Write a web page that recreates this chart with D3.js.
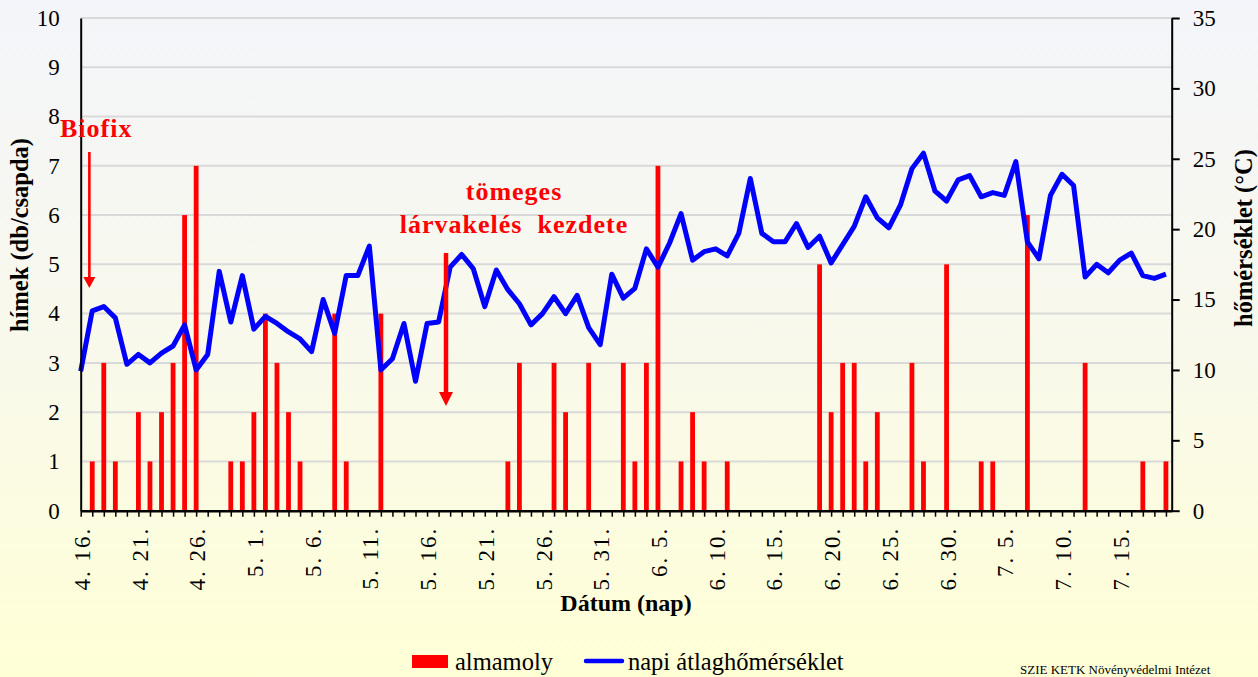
<!DOCTYPE html>
<html>
<head>
<meta charset="utf-8">
<script src="https://cdn.jsdelivr.net/npm/d3@7"></script>
<style>
  html, body { margin: 0; padding: 0; }
  body { width: 1258px; height: 677px; overflow: hidden; }
  text { font-family: "Liberation Serif", "DejaVu Serif", "Times New Roman", serif; }
</style>
</head>
<body>
<svg class="chart"></svg>
<script>
let width = 1258,
  height = 677;

// daily catches of male codling moth (almamoly), 4.16 -> 7.19
let catches = [0, 1, 3, 1, 0, 2, 1, 2, 3, 6, 7, 0, 0, 1, 1, 2, 4, 3, 2, 1,
  0, 0, 4, 1, 0, 0, 4, 0, 0, 0, 0, 0, 0, 0, 0, 0, 0, 1, 3, 0,
  0, 3, 2, 0, 3, 0, 0, 3, 1, 3, 7, 0, 1, 2, 1, 0, 1, 0, 0, 0,
  0, 0, 0, 0, 5, 2, 3, 3, 1, 2, 0, 0, 3, 1, 0, 5, 0, 0, 1, 1,
  0, 0, 6, 0, 0, 0, 0, 3, 0, 0, 0, 0, 1, 0, 1];

// daily mean temperature (°C)
let temps = [9.9, 14.2, 14.5, 13.7, 10.4, 11.1, 10.5, 11.2, 11.7, 13.2,
  10.0, 11.1, 17.0, 13.4, 16.7, 12.9, 13.8, 13.3, 12.7, 12.2,
  11.3, 15.0, 12.6, 16.7, 16.7, 18.8, 10.0, 10.8, 13.3, 9.2,
  13.3, 13.4, 17.3, 18.2, 17.2, 14.5, 17.1, 15.7, 14.7, 13.2,
  14.0, 15.2, 14.0, 15.3, 13.0, 11.8, 16.8, 15.1, 15.8, 18.6,
  17.3, 19.0, 21.1, 17.8, 18.4, 18.6, 18.1, 19.7, 23.6, 19.7,
  19.1, 19.1, 20.4, 18.7, 19.5, 17.6, 18.9, 20.2, 22.3, 20.8,
  20.1, 21.7, 24.3, 25.4, 22.7, 22.0, 23.5, 23.8, 22.3, 22.6,
  22.4, 24.8, 19.1, 17.9, 22.4, 23.9, 23.1, 16.6, 17.5, 16.9,
  17.8, 18.3, 16.7, 16.5, 16.8];

// every 5th day gets a label
let dateLabels = ["4. 16.", "4. 21.", "4. 26.", "5. 1.", "5. 6.", "5. 11.", "5. 16.",
  "5. 21.", "5. 26.", "5. 31.", "6. 5.", "6. 10.", "6. 15.", "6. 20.", "6. 25.",
  "6. 30.", "7. 5.", "7. 10.", "7. 15."];

let leftTicks = [0, 1, 2, 3, 4, 5, 6, 7, 8, 9, 10];
let rightTicks = [0, 5, 10, 15, 20, 25, 30, 35];

let plotLeft = 80.7, plotRight = 1171.7, plotTop = 18, plotBottom = 510.7;

let x = d3.scaleLinear().domain([0, 94.5]).range([plotLeft, plotRight]);
let yL = d3.scaleLinear().domain([0, 10]).range([plotBottom, plotTop]);
let yR = d3.scaleLinear().domain([0, 35]).range([plotBottom, plotTop]);

let svg = d3.select(".chart").attr("width", width).attr("height", height);

// background
let grad = svg.append("defs").append("linearGradient")
  .attr("id", "bg").attr("x1", 0).attr("y1", 0).attr("x2", 0).attr("y2", 1);
grad.append("stop").attr("offset", "0%").attr("stop-color", "#f3f5fa");
grad.append("stop").attr("offset", "55%").attr("stop-color", "#f9f9ea");
grad.append("stop").attr("offset", "100%").attr("stop-color", "#ffffd6");
svg.append("rect").attr("width", width).attr("height", height).attr("fill", "url(#bg)");

// gridlines
svg.append("g")
  .selectAll("line")
  .data(leftTicks.filter(d => d > 0))
  .enter()
  .append("line")
  .attr("x1", plotLeft).attr("x2", plotRight)
  .attr("y1", d => yL(d)).attr("y2", d => yL(d))
  .attr("stroke", "#d9d9d9").attr("stroke-width", 2);

// bars
svg.append("g")
  .selectAll("rect")
  .data(catches)
  .enter()
  .append("rect")
  .attr("x", (d, i) => x(i) - 2.4)
  .attr("width", 4.8)
  .attr("y", d => yL(d))
  .attr("height", d => plotBottom - yL(d))
  .attr("fill", "#ff0000");

// temperature line
svg.append("path")
  .datum(temps)
  .attr("fill", "none")
  .attr("stroke", "#0000ff")
  .attr("stroke-width", 5)
  .attr("stroke-linejoin", "round")
  .attr("d", d3.line().x((d, i) => x(i)).y(d => yR(d)));

// left axis
let gl = svg.append("g").attr("transform", `translate(${plotLeft},0)`)
  .call(d3.axisLeft(yL).tickValues(leftTicks).tickSize(0).tickPadding(21));
gl.select(".domain").attr("stroke", "#000").attr("stroke-width", 2);
gl.selectAll("text").attr("font-size", 23).attr("fill", "#000")
  .style("font-family", "Liberation Serif");

// right axis
let gr = svg.append("g").attr("transform", `translate(${plotRight},0)`)
  .call(d3.axisRight(yR).tickValues(rightTicks).tickSizeInner(8).tickSizeOuter(0).tickPadding(13));
gr.select(".domain").attr("stroke", "#000").attr("stroke-width", 2);
gr.selectAll(".tick line").attr("stroke", "#000").attr("stroke-width", 2);
gr.selectAll("text").attr("font-size", 23).attr("fill", "#000")
  .style("font-family", "Liberation Serif");

// bottom axis, one tick per day
let gb = svg.append("g").attr("transform", `translate(0,${plotBottom})`)
  .call(d3.axisBottom(x).tickValues(d3.range(0, 95)).tickSizeInner(6).tickSizeOuter(0)
    .tickFormat(d => (d % 5 === 0 ? dateLabels[d / 5] : "")));
gb.select(".domain").attr("stroke", "#000").attr("stroke-width", 2.5);
gb.selectAll(".tick line").attr("stroke", "#000").attr("stroke-width", 1.5);
gb.selectAll("text")
  .attr("font-size", 23)
  .attr("fill", "#000")
  .style("font-family", "Liberation Serif")
  .style("letter-spacing", "2px")
  .attr("text-anchor", "end")
  .attr("dy", "0.33em")
  .attr("transform", "translate(1,16) rotate(-90)")
  .attr("x", 0).attr("y", 0);

// axis titles
svg.append("text")
  .attr("transform", "translate(28,235) rotate(-90)")
  .attr("text-anchor", "middle")
  .attr("font-size", 24.5).attr("font-weight", "bold")
  .text("hímek (db/csapda)");

svg.append("text")
  .attr("transform", "translate(1252,238) rotate(-90)")
  .attr("text-anchor", "middle")
  .attr("font-size", 24.5).attr("font-weight", "bold")
  .text("hőmérséklet (°C)");

svg.append("text")
  .attr("x", 626).attr("y", 611)
  .attr("text-anchor", "middle")
  .attr("font-size", 24).attr("font-weight", "bold")
  .text("Dátum (nap)");

// annotations
function arrow(x0, y0, y1, w, head, hw) {
  let g = svg.append("g").attr("fill", "#ff0000").attr("stroke", "none");
  g.append("rect").attr("x", x0 - w / 2).attr("y", y0).attr("width", w).attr("height", y1 - y0 - head + 1);
  g.append("path").attr("d", `M${x0 - hw},${y1 - head} L${x0 + hw},${y1 - head} L${x0},${y1} Z`);
}

svg.append("text")
  .attr("x", 60).attr("y", 137)
  .attr("fill", "#ff0000").attr("font-size", 26).attr("font-weight", "bold")
  .style("letter-spacing", "1px")
  .text("Biofix");
arrow(x(0.75), 152, 288, 2.6, 11, 6);

svg.append("text")
  .attr("x", 514).attr("y", 200)
  .attr("text-anchor", "middle")
  .attr("fill", "#ff0000").attr("font-size", 26).attr("font-weight", "bold")
  .style("letter-spacing", "1px")
  .text("tömeges");
svg.append("text")
  .attr("x", 514).attr("y", 233)
  .attr("text-anchor", "middle")
  .attr("fill", "#ff0000").attr("font-size", 26).attr("font-weight", "bold")
  .style("letter-spacing", "1px")
  .style("white-space", "pre")
  .text("lárvakelés  kezdete");
arrow(446, 253, 406, 4.5, 14, 7);

// legend
let lg = svg.append("g").attr("font-size", 24.5);
lg.append("rect").attr("x", 412).attr("y", 655).attr("width", 36).attr("height", 13).attr("fill", "#ff0000");
lg.append("text").attr("x", 455).attr("y", 670).text("almamoly");
lg.append("line").attr("x1", 586).attr("x2", 622).attr("y1", 661).attr("y2", 661)
  .attr("stroke", "#0000ff").attr("stroke-width", 4.5).attr("stroke-linecap", "round");
lg.append("text").attr("x", 628).attr("y", 670).text("napi átlaghőmérséklet");

// source note at the bottom right
svg.append("text")
  .attr("x", 1020).attr("y", 674)
  .attr("font-size", 13)
  .text("SZIE KETK Növényvédelmi Intézet");
</script>
</body>
</html>
